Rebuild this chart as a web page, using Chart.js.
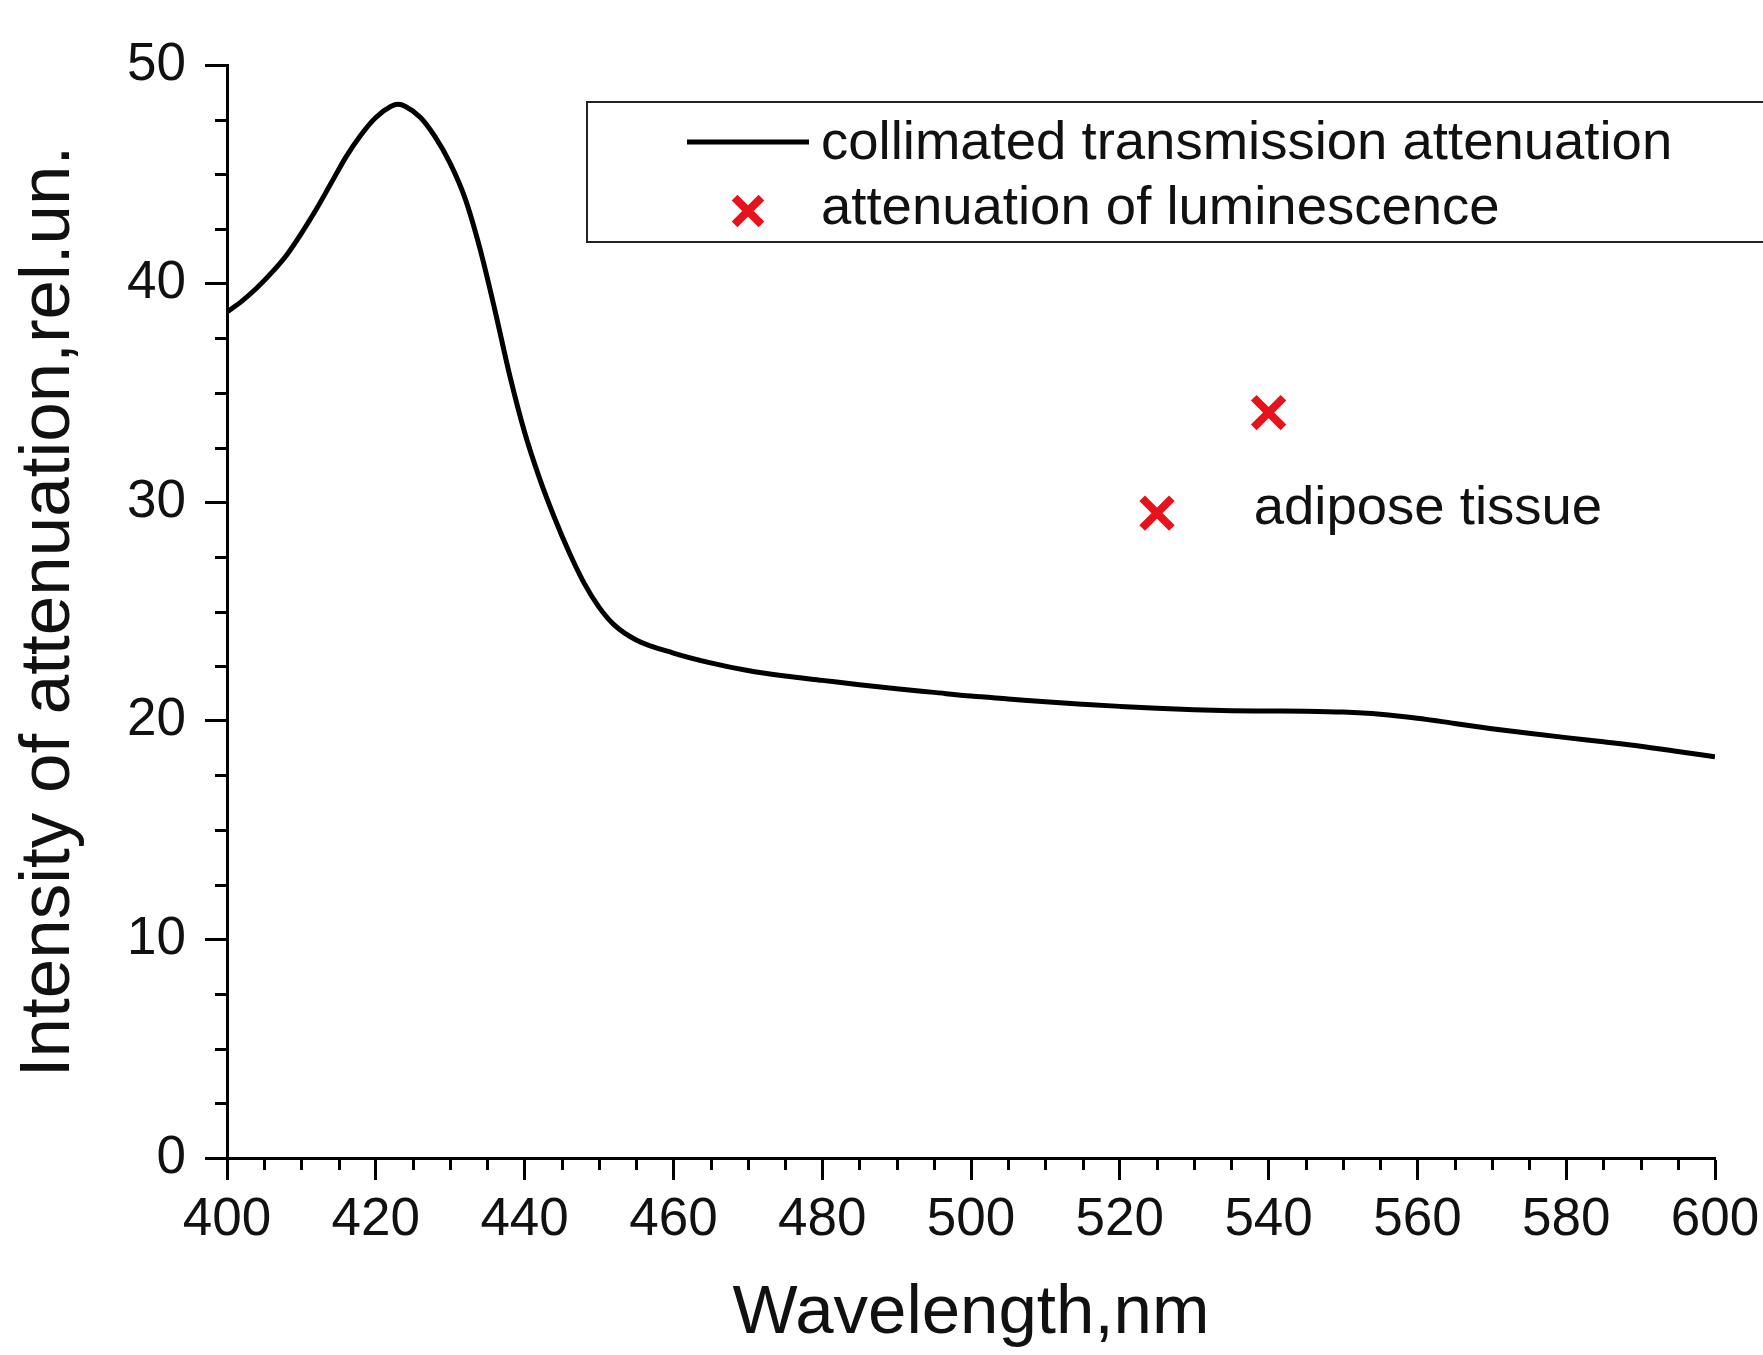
<!DOCTYPE html>
<html><head><meta charset="utf-8">
<script src="https://cdn.jsdelivr.net/npm/chart.js@4.4.1/dist/chart.umd.min.js"></script>
<style>html,body{margin:0;padding:0;background:#fff;}canvas{display:block;}</style>
</head><body>
<canvas id="c" width="1763" height="1355"></canvas>
<script>
// ---- data ----
const wavelengths = [400,402,404,406,408,410,412,414,416,418,420,422,423,424,426,428,430,432,434,436,438,440,442,444,446,448,450,452,455,460,465,470,475,480,485,490,495,500,505,510,515,520,525,530,535,540,545,550,555,560,565,570,575,580,585,590,595,600];
const collimatedAttenuation = [38.7,39.2,39.8,40.5,41.3,42.3,43.4,44.6,45.8,46.8,47.6,48.1,48.2,48.1,47.6,46.7,45.5,43.9,41.6,38.8,35.8,33.2,31.1,29.3,27.7,26.3,25.2,24.4,23.7,23.1,22.65,22.3,22.05,21.85,21.65,21.47,21.3,21.13,21.0,20.87,20.76,20.66,20.57,20.5,20.46,20.45,20.44,20.4,20.3,20.12,19.88,19.64,19.43,19.23,19.04,18.84,18.6,18.35];
const luminescenceWavelengths = [525, 540];
const luminescenceAttenuation = [29.5, 34.1];
const xTickValues = [400,420,440,460,480,500,520,540,560,580,600];
const yTickValues = [0,10,20,30,40,50];
const xMinorStep = 5;
const yMinorStep = 2.5;
const seriesLabels = ['collimated transmission attenuation', 'attenuation of luminescence'];
const annotationText = 'adipose tissue';
const annotationAt = [538, 29.0];
const xTitle = 'Wavelength,nm';
const yTitle = 'Intensity of attenuation,rel.un.';

const FONT = '"Liberation Sans", Arial, Helvetica, sans-serif';
const RED = '#e8121c';
const TXT = '#111';

const curvePoints = wavelengths.map((w, i) => ({x: w, y: collimatedAttenuation[i]}));
const lumPoints = luminescenceWavelengths.map((w, i) => ({x: w, y: luminescenceAttenuation[i]}));

const minorTicks = {
  id: 'minorTicks',
  afterDraw(chart) {
    const {ctx, chartArea: a} = chart;
    const x = chart.scales.x, y = chart.scales.y;
    ctx.save();
    ctx.strokeStyle = '#000';
    ctx.lineWidth = 3;
    ctx.beginPath();
    for (let v = x.min; v <= x.max + 1e-9; v += xMinorStep) {
      if (xTickValues.includes(v)) continue;
      const px = Math.round(x.getPixelForValue(v)) + 0.5;
      ctx.moveTo(px, a.bottom);
      ctx.lineTo(px, a.bottom + 12);
    }
    for (let v = y.min; v <= y.max + 1e-9; v += yMinorStep) {
      if (yTickValues.includes(v)) continue;
      const py = Math.round(y.getPixelForValue(v)) + 0.5;
      ctx.moveTo(a.left, py);
      ctx.lineTo(a.left - 12, py);
    }
    ctx.stroke();
    ctx.restore();
  }
};

const legendBox = {
  id: 'legendBox',
  afterDraw(chart) {
    const {ctx} = chart;
    const ds = chart.data.datasets;
    const bx = 587, by = 102, bw = 1300, bh = 140;
    ctx.save();
    ctx.fillStyle = '#fff';
    ctx.fillRect(bx, by, bw, bh);
    ctx.strokeStyle = '#222';
    ctx.lineWidth = 2;
    ctx.strokeRect(bx, by, bw, bh);
    // entry 1: line sample
    ctx.strokeStyle = ds[0].borderColor;
    ctx.lineWidth = ds[0].borderWidth;
    ctx.beginPath();
    ctx.moveTo(687, 142);
    ctx.lineTo(809, 142);
    ctx.stroke();
    // entry 2: marker sample
    ctx.strokeStyle = ds[1].borderColor;
    ctx.fillStyle = ds[1].backgroundColor;
    ctx.lineWidth = ds[1].borderWidth;
    Chart.helpers.drawPoint(ctx, {pointStyle: ds[1].pointStyle, radius: 19, rotation: 0, borderWidth: ds[1].borderWidth}, 748, 211);
    ctx.fillStyle = TXT;
    ctx.font = '54.5px ' + FONT;
    ctx.textAlign = 'left';
    ctx.textBaseline = 'alphabetic';
    ctx.fillText(ds[0].label, 821, 159);
    ctx.fillText(ds[1].label, 821, 224);
    // annotation
    const ax = chart.scales.x.getPixelForValue(annotationAt[0]);
    const ay = chart.scales.y.getPixelForValue(annotationAt[1]);
    ctx.fillText(annotationText, ax, ay);
    ctx.restore();
  }
};

new Chart(document.getElementById('c'), {
  type: 'scatter',
  data: {
    datasets: [
      {
        label: seriesLabels[0],
        data: curvePoints,
        showLine: true,
        borderColor: '#000',
        backgroundColor: '#000',
        borderWidth: 5,
        pointRadius: 0,
        cubicInterpolationMode: 'monotone'
      },
      {
        label: seriesLabels[1],
        data: lumPoints,
        showLine: false,
        pointStyle: 'crossRot',
        pointRadius: 21,
        borderWidth: 8,
        borderColor: RED,
        backgroundColor: RED
      }
    ]
  },
  options: {
    responsive: false,
    devicePixelRatio: 1,
    animation: false,
    layout: {padding: {top: 65, right: 48, left: 0, bottom: 0}},
    plugins: {legend: {display: false}, tooltip: {enabled: false}},
    scales: {
      x: {
        type: 'linear',
        min: 400, max: 600,
        afterBuildTicks(s) { s.ticks = xTickValues.map(v => ({value: v})); },
        afterFit(s) { s.height = 197; s.paddingLeft = 0; s.paddingRight = 0; },
        grid: {display: true, drawOnChartArea: false, drawTicks: true, tickLength: 22, tickWidth: 3, tickColor: '#000'},
        border: {display: true, color: '#000', width: 3},
        ticks: {color: TXT, font: {family: FONT, size: 53}, padding: 9, maxRotation: 0, autoSkip: false},
        title: {display: true, text: xTitle, color: TXT, font: {family: FONT, size: 69}, padding: {top: 0, bottom: 0}}
      },
      y: {
        type: 'linear',
        min: 0, max: 50,
        afterBuildTicks(s) { s.ticks = yTickValues.map(v => ({value: v})); },
        afterFit(s) { s.width = 227; s.paddingTop = 0; s.paddingBottom = 0; },
        grid: {display: true, drawOnChartArea: false, drawTicks: true, tickLength: 22, tickWidth: 3, tickColor: '#000'},
        border: {display: true, color: '#000', width: 3},
        ticks: {color: TXT, font: {family: FONT, size: 53}, padding: 19},
        title: {display: true, text: yTitle, color: TXT, font: {family: FONT, size: 71}, padding: {top: 7, bottom: 0}}
      }
    }
  },
  plugins: [minorTicks, legendBox]
});
</script>
</body></html>
